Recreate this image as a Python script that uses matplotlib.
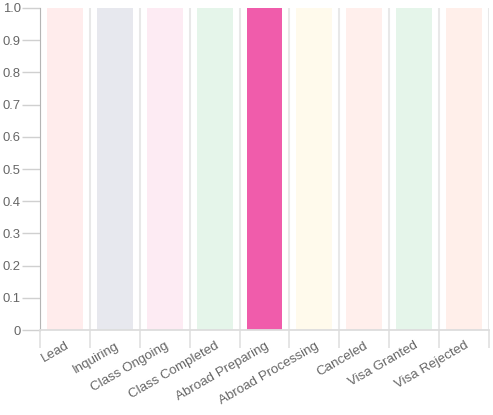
import numpy as np
import matplotlib
matplotlib.use("Agg")
from matplotlib import pyplot as plt

plt.rcParams["font.family"] = ["Liberation Sans", "DejaVu Sans"]

stages = ["Lead", "Inquiring", "Class Ongoing", "Class Completed", "Abroad Preparing",
          "Abroad Processing", "Canceled", "Visa Granted", "Visa Rejected"]
values = [1, 1, 1, 1, 1, 1, 1, 1, 1]
colors = ["#ffecec", "#e7e8ee", "#fdebf3", "#e5f5ea", "#f05cab",
          "#fffaec", "#ffefec", "#e5f5ea", "#ffefea"]
yticks = [0, 0.1, 0.2, 0.3, 0.4, 0.5, 0.6, 0.7, 0.8, 0.9, 1.0]
ytick_labels = ["0", "0.1", "0.2", "0.3", "0.4", "0.5", "0.6", "0.7", "0.8", "0.9", "1.0"]

W, H = 493, 415
fig = plt.figure(figsize=(W / 100, H / 100), dpi=100)
ax = fig.add_axes([40 / W, 1 - 330 / H, (489 - 40) / W, (330 - 8) / H])

x = np.arange(len(stages))
ax.bar(x, values, width=0.72, color=colors, zorder=2)

ax.set_xlim(-0.5, len(stages) - 0.5)
ax.set_ylim(0, 1.0)

# category boundaries -> grid lines + tick marks
ax.set_xticks(np.arange(-0.5, len(stages)), minor=True)
ax.set_xticks(x)
ax.set_xticklabels(stages, rotation=30, ha="right", va="top",
                   rotation_mode="anchor", fontsize=9.6, color="#666666")
ax.tick_params(axis="x", which="major", length=0, pad=7)
ax.tick_params(axis="x", which="minor", length=13, width=1.3, color="#e3e3e3")
ax.grid(axis="x", which="minor", color="#e8e8e8", linewidth=1.5, zorder=0)

ax.set_yticks(yticks)
ax.set_yticklabels(ytick_labels, fontsize=9.4, color="#666666")
ax.tick_params(axis="y", length=13, width=1, color="#d0d0d0", pad=1)

for s in ["top", "right"]:
    ax.spines[s].set_visible(False)
ax.spines["left"].set_color("#b5b5b5")
ax.spines["bottom"].set_color("#dddddd")
ax.spines["bottom"].set_linewidth(1.3)

fig.savefig("out.png", dpi=100)
